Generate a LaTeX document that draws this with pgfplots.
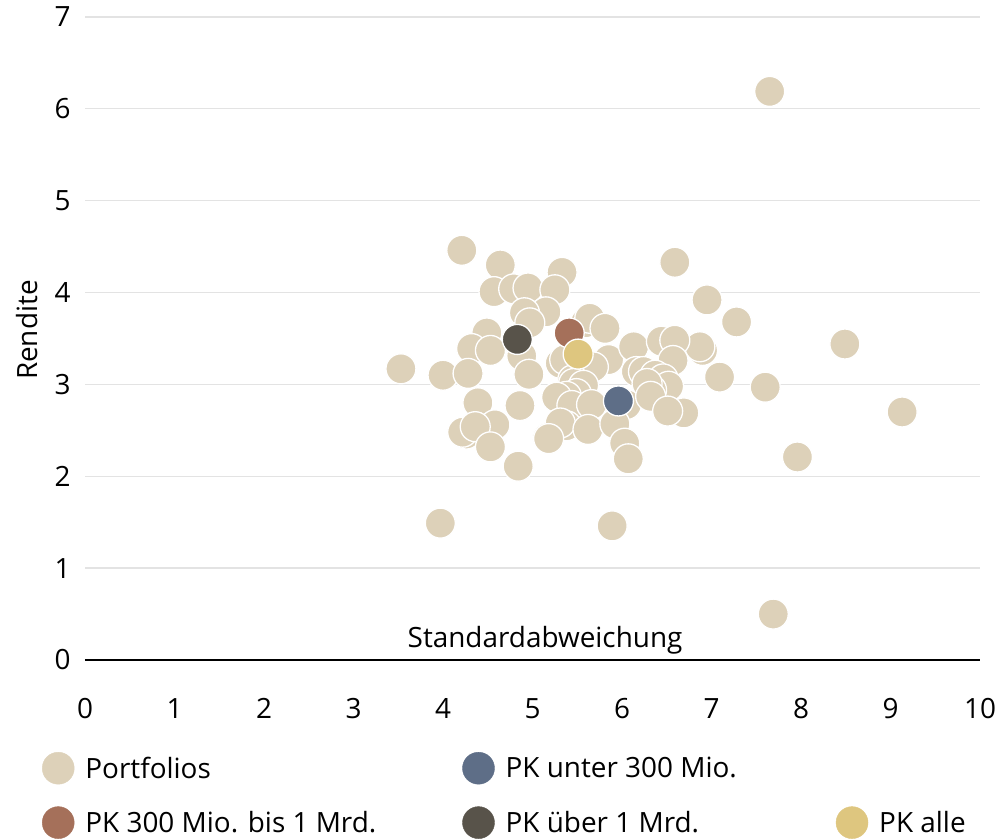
\documentclass[border=0pt]{standalone}
\usepackage{fontspec}
\setmainfont{Open Sans}
\usepackage{pgfplots}
\pgfplotsset{compat=1.18}
\definecolor{cbeige}{HTML}{DDD1B9}
\definecolor{cblue}{HTML}{5E6E87}
\definecolor{cbrown}{HTML}{A5705A}
\definecolor{cdark}{HTML}{58534A}
\definecolor{cyellow}{HTML}{DEC67F}
\definecolor{cgrid}{HTML}{E3E3E3}
\newcommand{\fs}{\fontsize{28}{33}\selectfont}
\begin{document}
\begin{tikzpicture}[x=1bp,y=1bp]
\useasboundingbox (-85,-179) rectangle (917,660);
\begin{axis}[
  at={(0,0)}, anchor=south west,
  scale only axis, width=895bp, height=643bp,
  xmin=0, xmax=10, ymin=0, ymax=7,
  xtick={0,...,10}, ytick={1,...,7},
  extra y ticks={0},
  extra y tick style={grid style={draw=black, line width=2.8bp}},
  ymajorgrids, grid style={draw=cgrid, line width=1.3bp},
  axis line style={draw=none}, major tick length=0pt,
  tick label style={font=\fs},
  /pgf/number format/assume math mode=true,
  xticklabel style={yshift=-35bp},
  yticklabel style={xshift=-11bp},
  xlabel={Standardabweichung},
  xlabel style={at={(axis description cs:0.514,0)}, anchor=south, font=\fs, yshift=2bp},
  ylabel={Rendite},
  ylabel style={at={(axis description cs:-0.065,0.513)}, anchor=center, font=\fs},
  clip=false,
  legend columns=3,
  legend cell align=left,
  legend style={at={(axis description cs:-0.048,-0.1431)}, anchor=north west,
    draw=none, fill=none, inner sep=0pt, outer sep=0pt, font=\fs,
    nodes={inner sep=0pt},
    row sep=22bp,
    /tikz/every odd column/.style={column sep=11bp},
    /tikz/column 2/.style={column sep=86bp},
    /tikz/column 4/.style={column sep=99bp}},
]
\addplot[only marks, mark=*, mark size=15bp, mark options={fill=cbeige, draw=white, line width=1.3bp}, forget plot] table {
x y
7.65 6.19
4.21 4.46
4.64 4.30
5.33 4.22
6.59 4.33
6.95 3.92
7.28 3.68
8.49 3.44
9.13 2.70
7.60 2.97
7.09 3.08
7.96 2.21
7.69 0.50
5.89 1.46
3.97 1.49
3.53 3.17
4.00 3.10
4.84 2.11
6.69 2.69
6.90 3.37
6.87 3.41
4.57 4.01
4.79 4.04
4.95 4.05
5.25 4.03
5.15 3.79
4.91 3.78
4.97 3.67
4.49 3.56
4.32 3.39
4.53 3.37
4.88 3.31
4.96 3.11
4.28 3.12
4.39 2.80
4.86 2.77
4.58 2.56
4.26 2.46
4.22 2.48
4.36 2.54
4.53 2.32
5.17 2.42
5.31 3.23
5.36 3.27
5.59 3.67
5.64 3.72
5.81 3.61
5.85 3.27
5.68 3.19
5.45 3.05
5.46 3.01
5.57 2.99
5.49 2.90
5.38 2.87
5.27 2.86
5.44 2.77
5.66 2.78
5.38 2.55
5.31 2.58
5.62 2.51
6.05 2.78
5.92 2.57
6.03 2.36
6.07 2.19
5.18 2.41
6.13 3.41
6.16 3.14
6.44 3.47
6.59 3.48
6.57 3.26
6.24 3.14
6.37 3.10
6.46 3.06
6.52 2.98
6.33 2.94
6.28 3.01
6.32 2.87
6.51 2.71
};
\addplot[only marks, mark=*, mark size=15bp, mark options={fill=cblue, draw=white, line width=1.3bp}, forget plot] table {
x y
5.96 2.82
};
\addplot[only marks, mark=*, mark size=15bp, mark options={fill=cbrown, draw=white, line width=1.3bp}, forget plot] table {
x y
5.41 3.56
};
\addplot[only marks, mark=*, mark size=15bp, mark options={fill=cdark, draw=white, line width=1.3bp}, forget plot] table {
x y
4.83 3.49
};
\addplot[only marks, mark=*, mark size=15bp, mark options={fill=cyellow, draw=white, line width=1.3bp}, forget plot] table {
x y
5.51 3.33
};
\addlegendimage{legend image code/.code={\fill[cbeige] (16bp,0bp) circle (16bp);}}
\addlegendentry{Portfolios}
\addlegendimage{legend image code/.code={\fill[cblue] (16bp,0bp) circle (16bp);}}
\addlegendentry{PK unter 300 Mio.}
\addlegendimage{empty legend}
\addlegendentry{}
\addlegendimage{legend image code/.code={\fill[cbrown] (16bp,0bp) circle (16bp);}}
\addlegendentry{PK 300 Mio. bis 1 Mrd.}
\addlegendimage{legend image code/.code={\fill[cdark] (16bp,0bp) circle (16bp);}}
\addlegendentry{PK über 1 Mrd.}
\addlegendimage{legend image code/.code={\fill[cyellow] (16bp,0bp) circle (16bp);}}
\addlegendentry{PK alle}
\end{axis}
\end{tikzpicture}
\end{document}
